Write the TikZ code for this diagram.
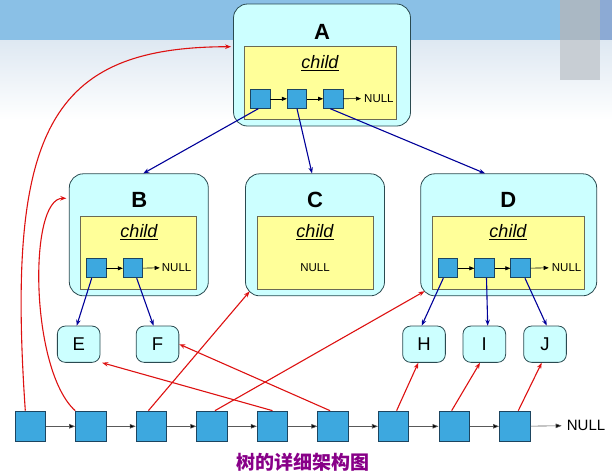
\documentclass[tikz,border=0pt]{standalone}
\usepackage{fontspec}
\setmainfont{Liberation Sans}
\newfontfamily\cjk{Noto Sans CJK SC}
\usetikzlibrary{arrows.meta}
\definecolor{outerf}{HTML}{CCFFFF}
\definecolor{outerc}{HTML}{2A4A50}
\definecolor{innerf}{HTML}{FFFF99}
\definecolor{innerc}{HTML}{6A6A55}
\definecolor{sqf}{HTML}{3DA8DF}
\definecolor{sqc}{HTML}{1D4560}
\definecolor{bluec}{HTML}{000099}
\definecolor{redc}{HTML}{DD1111}
\definecolor{capc}{HTML}{880088}
\definecolor{bandA}{RGB}{138,192,230}
\definecolor{bandB}{RGB}{222,232,242}
\tikzset{
  outerbox/.style={draw=outerc, fill=outerf, rounded corners=14pt, line width=0.8pt, inner sep=0pt},
  innerbox/.style={draw=innerc, fill=innerf, line width=0.8pt, inner sep=0pt},
  sq/.style={draw=sqc, fill=sqf, minimum width=19.5pt, minimum height=19pt, inner sep=0pt, line width=0.8pt},
  bsq/.style={draw=sqc, fill=sqf, minimum width=30.5pt, minimum height=30.5pt, inner sep=0pt, line width=0.8pt},
  leaf/.style={draw=outerc, fill=outerf, rounded corners=8pt, minimum width=42.7pt, minimum height=36.3pt, inner sep=0pt, line width=0.8pt, font=\fontsize{18.5}{18.5}\selectfont},
  biglab/.style={font=\fontsize{22}{22}\selectfont\bfseries, inner sep=0pt},
  childlab/.style={font=\fontsize{18}{18}\selectfont\itshape, inner sep=0pt},
  nulls/.style={font=\fontsize{11.5}{11.5}\selectfont, inner sep=0pt},
  nullb/.style={font=\fontsize{15}{15}\selectfont, inner sep=0pt},
  blk/.style={-{Triangle[length=5pt,width=4pt]}, line width=0.6pt, black},
  gry/.style={line width=0.6pt, draw=black!65, arrows={-{Triangle[length=6pt,width=4.5pt,fill=black]}}},
  blu/.style={-{Stealth[length=6pt,width=4.5pt]}, line width=1.1pt, bluec},
  red/.style={-{Stealth[length=6pt,width=4.5pt]}, line width=1.1pt, redc}
}
\begin{document}
\begin{tikzpicture}[x=1pt,y=-1pt]
\useasboundingbox (0,0) rectangle (612,474);
% background banner
\fill[bandA] (0,0) rectangle (612,40);
\shade[top color=bandB, bottom color=white] (0,40) rectangle (612,120);
\fill[color={rgb,255:red,170;green,184;blue,196}] (560,0) rectangle (600,40);
\fill[color={rgb,255:red,200;green,206;blue,212}] (560,40) rectangle (600,80);
\fill[color={rgb,255:red,140;green,170;blue,212}] (600,0) rectangle (612,40);

% node A
\node[outerbox, minimum width=177pt, minimum height=122pt] (A) at (322,65) {};
\node[innerbox, minimum width=152pt, minimum height=73pt] (Ai) at (320.5,83) {};
\node[biglab] (Al) at (322,32) {A};
\node[childlab] (Ac) at (320,63) {\underline{child}};
\node[sq] (a1) at (260.3,98.8) {};
\node[sq] (a2) at (297,98.8) {};
\node[sq] (a3) at (333.3,98.8) {};
\node[nulls, anchor=west] (An) at (364,98.5) {NULL};

% node B
\node[outerbox, minimum width=139pt, minimum height=122pt] (B) at (138.8,234.8) {};
\node[innerbox, minimum width=116pt, minimum height=73pt] (Bi) at (138.8,252.7) {};
\node[biglab] (Bl) at (139.3,200) {B};
\node[childlab] (Bc) at (139,232) {\underline{child}};
\node[sq] (b1) at (96.3,268.3) {};
\node[sq] (b2) at (133,268.3) {};
\node[nulls, anchor=west] (Bn) at (161.7,267.5) {NULL};

% node C
\node[outerbox, minimum width=139pt, minimum height=122pt] (C) at (315,234.8) {};
\node[innerbox, minimum width=116pt, minimum height=73pt] (Ci) at (315,252.7) {};
\node[biglab] (Cl) at (315,200) {C};
\node[childlab] (Cc) at (315,232) {\underline{child}};
\node[nulls] (Cn) at (315,267.5) {NULL};

% node D
\node[outerbox, minimum width=176pt, minimum height=122pt] (D) at (508.7,234.8) {};
\node[innerbox, minimum width=152pt, minimum height=73pt] (Di) at (508.3,252.7) {};
\node[biglab] (Dl) at (508.3,200) {D};
\node[childlab] (Dc) at (508,232) {\underline{child}};
\node[sq] (d1) at (447.8,268.3) {};
\node[sq] (d2) at (484.5,268.3) {};
\node[sq] (d3) at (520.5,268.3) {};
\node[nulls, anchor=west] (Dn) at (551.7,267.5) {NULL};

% leaves
\node[leaf] (E) at (78.7,344.2) {E};
\node[leaf] (F) at (157.5,344.2) {F};
\node[leaf] (H) at (424,344.2) {H};
\node[leaf] (I) at (484.3,344.2) {I};
\node[leaf] (J) at (545,344.2) {J};

% bottom list
\foreach \i/\x in {1/30.3,2/90.85,3/151.4,4/211.95,5/272.5,6/333.05,7/393.6,8/454.15,9/514.7}
  \node[bsq] (l\i) at (\x,426.3) {};
\node[nullb, anchor=west] (Ln) at (566.7,425.5) {NULL};

% small list arrows
\draw[blk] (a1) -- (a2);
\draw[blk] (a2) -- (a3);
\draw[blk, shorten >=3pt] (a3) -- (An);
\draw[blk] (b1) -- (b2);
\draw[blk, shorten >=2pt] (b2) -- (Bn);
\draw[blk] (d1) -- (d2);
\draw[blk] (d2) -- (d3);
\draw[blk, shorten >=3pt] (d3) -- (Dn);
\foreach \i/\j in {1/2,2/3,3/4,4/5,5/6,6/7,7/8,8/9}
  \draw[gry] (l\i) -- (l\j);
\draw[gry, shorten >=5pt] (l9) -- (Ln);

% blue child links
\draw[blu] ([xshift=-2pt]a1.south) -- ([xshift=4.5pt]B.north);
\draw[blu] (a2.south) -- ([xshift=-3pt]C.north);
\draw[blu] ([xshift=-3pt]a3.south) -- ([xshift=-23.7pt]D.north);
\draw[blu] ([xshift=-4.6pt]b1.south) -- ([xshift=-2pt]E.north);
\draw[blu] ([xshift=3.7pt]b2.south) -- ([xshift=-4pt]F.north);
\draw[blu] ([xshift=-4.5pt]d1.south) -- ([xshift=-2.3pt]H.north);
\draw[blu] ([xshift=2pt]d2.south) -- ([xshift=3.4pt]I.north);
\draw[blu] ([xshift=4.5pt]d3.south) -- ([xshift=1.7pt]J.north);

% red links from bottom list
\draw[red] ([xshift=-5pt]l1.north) .. controls (6,130) and (50,47) .. ([xshift=-2pt,yshift=18.3pt]A.west);
\draw[red] (l2.north west) .. controls (30,370) and (28,198) .. ([xshift=-2.6pt,yshift=36.5pt]B.west);
\draw[red] ([xshift=-3pt]l3.north) -- ([xshift=4.5pt,yshift=4.8pt]C.south west);
\draw[red] ([xshift=3pt]l4.north) -- ([xshift=4.3pt,yshift=5pt]D.south west);
\draw[red] (l5.north) -- ([xshift=1.7pt]E.south east);
\draw[red] ([xshift=-3pt]l6.north) -- (F.east);
\draw[red] ([xshift=3pt]l7.north) -- ([xshift=-5.7pt]H.south);
\draw[red] ([xshift=-2.5pt]l8.north) -- ([xshift=-4.3pt]I.south);
\draw[red] ([xshift=3.6pt]l9.north) -- ([xshift=-3.3pt]J.south);

% caption
\node[font=\cjk\bfseries\fontsize{19}{19}\selectfont, text=capc, inner sep=0pt] (cap) at (303,462) {树的详细架构图};
\end{tikzpicture}
\end{document}
